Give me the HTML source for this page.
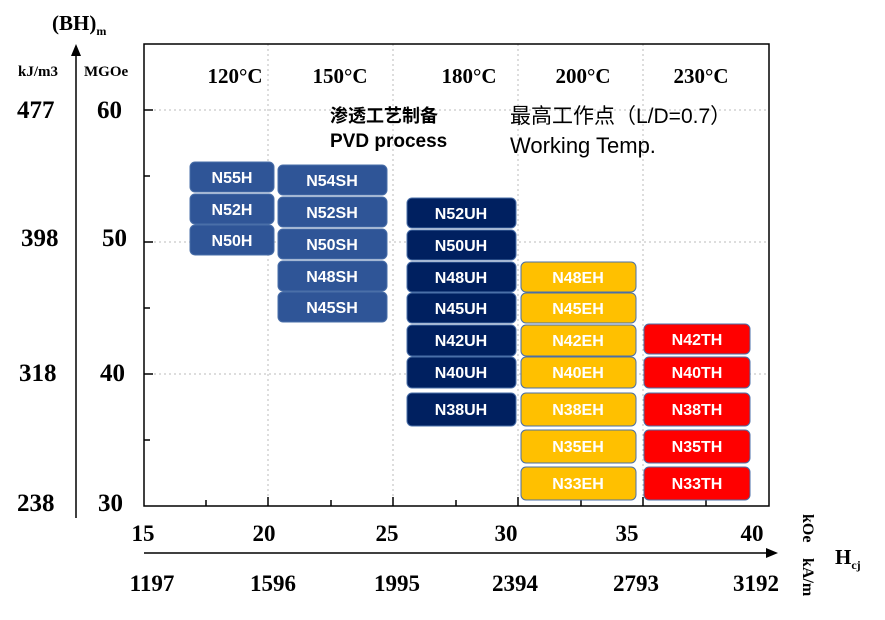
<!DOCTYPE html>
<html><head><meta charset="utf-8"><style>
body{margin:0;background:#fff}
svg{display:block}
.s{font-family:"Liberation Serif",serif;font-weight:bold;fill:#000}
.b{font-family:"Liberation Sans","Noto Sans CJK SC",sans-serif;font-weight:bold;fill:#fff;font-size:16px;text-anchor:middle}
</style></head><body>
<svg width="885" height="620" viewBox="0 0 885 620" xmlns="http://www.w3.org/2000/svg">
<g stroke="#bbb" stroke-width="1" stroke-dasharray="2,3">
<line x1="144" y1="110" x2="769" y2="110"/><line x1="144" y1="242" x2="769" y2="242"/><line x1="144" y1="374" x2="769" y2="374"/>
<line x1="268" y1="44" x2="268" y2="506"/><line x1="393" y1="44" x2="393" y2="506"/><line x1="518" y1="44" x2="518" y2="506"/><line x1="643" y1="44" x2="643" y2="506"/>
</g>
<rect x="144" y="44" width="625" height="462" fill="none" stroke="#000" stroke-width="1.5"/>
<g stroke="#000" stroke-width="1.5">
<line x1="144" y1="110" x2="153" y2="110"/><line x1="144" y1="176" x2="150" y2="176"/><line x1="144" y1="242" x2="153" y2="242"/><line x1="144" y1="308" x2="150" y2="308"/><line x1="144" y1="374" x2="153" y2="374"/><line x1="144" y1="440" x2="150" y2="440"/>
<line x1="206" y1="506" x2="206" y2="500"/><line x1="268" y1="506" x2="268" y2="497"/><line x1="331" y1="506" x2="331" y2="500"/><line x1="393" y1="506" x2="393" y2="497"/><line x1="456" y1="506" x2="456" y2="500"/><line x1="518" y1="506" x2="518" y2="497"/><line x1="581" y1="506" x2="581" y2="500"/><line x1="643" y1="506" x2="643" y2="497"/><line x1="706" y1="506" x2="706" y2="500"/>
<line x1="76" y1="52" x2="76" y2="518"/>
<line x1="144" y1="553" x2="768" y2="553"/>
</g>
<polygon points="76,44 71,56 81,56" fill="#000"/>
<polygon points="778,553 766,548 766,558" fill="#000"/>
<text class="s" x="52" y="30" font-size="21">(BH)<tspan font-size="12" dy="5">m</tspan></text>
<text class="s" x="18" y="76" font-size="15">kJ/m3</text>
<text class="s" x="84" y="76" font-size="15">MGOe</text>
<g class="s" font-size="25">
<text x="17" y="118">477</text><text x="97" y="118">60</text>
<text x="21" y="246">398</text><text x="102" y="246">50</text>
<text x="19" y="381">318</text><text x="100" y="381">40</text>
<text x="17" y="511">238</text><text x="98" y="511">30</text>
</g>
<g class="s" font-size="23" text-anchor="middle">
<text x="143" y="541">15</text><text x="264" y="541">20</text><text x="387" y="541">25</text><text x="506" y="541">30</text><text x="627" y="541">35</text><text x="752" y="541">40</text>
<text x="152" y="591">1197</text><text x="273" y="591">1596</text><text x="397" y="591">1995</text><text x="515" y="591">2394</text><text x="636" y="591">2793</text><text x="756" y="591">3192</text>
</g>
<text class="s" font-size="16" transform="translate(803,514) rotate(90)">kOe</text>
<text class="s" font-size="16" transform="translate(803,558) rotate(90)">kA/m</text>
<text class="s" x="835" y="564" font-size="21">H<tspan font-size="12" dy="5">cj</tspan></text>
<g class="s" font-size="21" text-anchor="middle">
<text x="235" y="83">120°C</text><text x="340" y="83">150°C</text><text x="469" y="83">180°C</text><text x="583" y="83">200°C</text><text x="701" y="83">230°C</text>
</g>
<text x="330" y="122" font-family="Liberation Sans,Noto Sans CJK SC,sans-serif" font-weight="bold" font-size="18">渗透工艺制备</text>
<text x="330" y="147" font-family="Liberation Sans,Noto Sans CJK SC,sans-serif" font-weight="bold" font-size="19">PVD process</text>
<text x="510" y="123" font-family="Liberation Sans,Noto Sans CJK SC,sans-serif" font-size="21">最高工作点（L/D=0.7）</text>
<text x="510" y="153" font-family="Liberation Sans,Noto Sans CJK SC,sans-serif" font-size="22">Working Temp.</text>
<g stroke="#4a6fa8" stroke-width="1">
<g fill="#2F5597">
<rect x="190" y="162" width="84" height="30" rx="5"/><rect x="190" y="194" width="84" height="30" rx="5"/><rect x="190" y="225" width="84" height="30" rx="5"/>
<rect x="278" y="165" width="109" height="30" rx="5"/><rect x="278" y="197" width="109" height="30" rx="5"/><rect x="278" y="229" width="109" height="30" rx="5"/><rect x="278" y="261" width="109" height="30" rx="5"/><rect x="278" y="292" width="109" height="30" rx="5"/>
</g>
<g fill="#002060">
<rect x="407" y="198" width="109" height="30" rx="5"/><rect x="407" y="230" width="109" height="30" rx="5"/><rect x="407" y="262" width="109" height="30" rx="5"/><rect x="407" y="293" width="109" height="30" rx="5"/><rect x="407" y="325" width="109" height="31" rx="5"/><rect x="407" y="357" width="109" height="31" rx="5"/><rect x="407" y="393" width="109" height="33" rx="5"/>
</g>
<g fill="#FFC000">
<rect x="521" y="262" width="115" height="30" rx="5"/><rect x="521" y="293" width="115" height="30" rx="5"/><rect x="521" y="325" width="115" height="31" rx="5"/><rect x="521" y="357" width="115" height="31" rx="5"/><rect x="521" y="393" width="115" height="33" rx="5"/><rect x="521" y="430" width="115" height="33" rx="5"/><rect x="521" y="467" width="115" height="33" rx="5"/>
</g>
<g fill="#FF0000">
<rect x="644" y="324" width="106" height="30" rx="5"/><rect x="644" y="357" width="106" height="31" rx="5"/><rect x="644" y="393" width="106" height="33" rx="5"/><rect x="644" y="430" width="106" height="33" rx="5"/><rect x="644" y="467" width="106" height="33" rx="5"/>
</g>
</g>
<g class="b">
<text x="232" y="183">N55H</text><text x="232" y="215">N52H</text><text x="232" y="246">N50H</text>
<text x="332" y="186">N54SH</text><text x="332" y="218">N52SH</text><text x="332" y="250">N50SH</text><text x="332" y="282">N48SH</text><text x="332" y="313">N45SH</text>
<text x="461" y="219">N52UH</text><text x="461" y="251">N50UH</text><text x="461" y="283">N48UH</text><text x="461" y="314">N45UH</text><text x="461" y="346">N42UH</text><text x="461" y="378">N40UH</text><text x="461" y="415">N38UH</text>
<text x="578" y="283">N48EH</text><text x="578" y="314">N45EH</text><text x="578" y="346">N42EH</text><text x="578" y="378">N40EH</text><text x="578" y="415">N38EH</text><text x="578" y="452">N35EH</text><text x="578" y="489">N33EH</text>
<text x="697" y="345">N42TH</text><text x="697" y="378">N40TH</text><text x="697" y="415">N38TH</text><text x="697" y="452">N35TH</text><text x="697" y="489">N33TH</text>
</g>
</svg>
</body></html>
